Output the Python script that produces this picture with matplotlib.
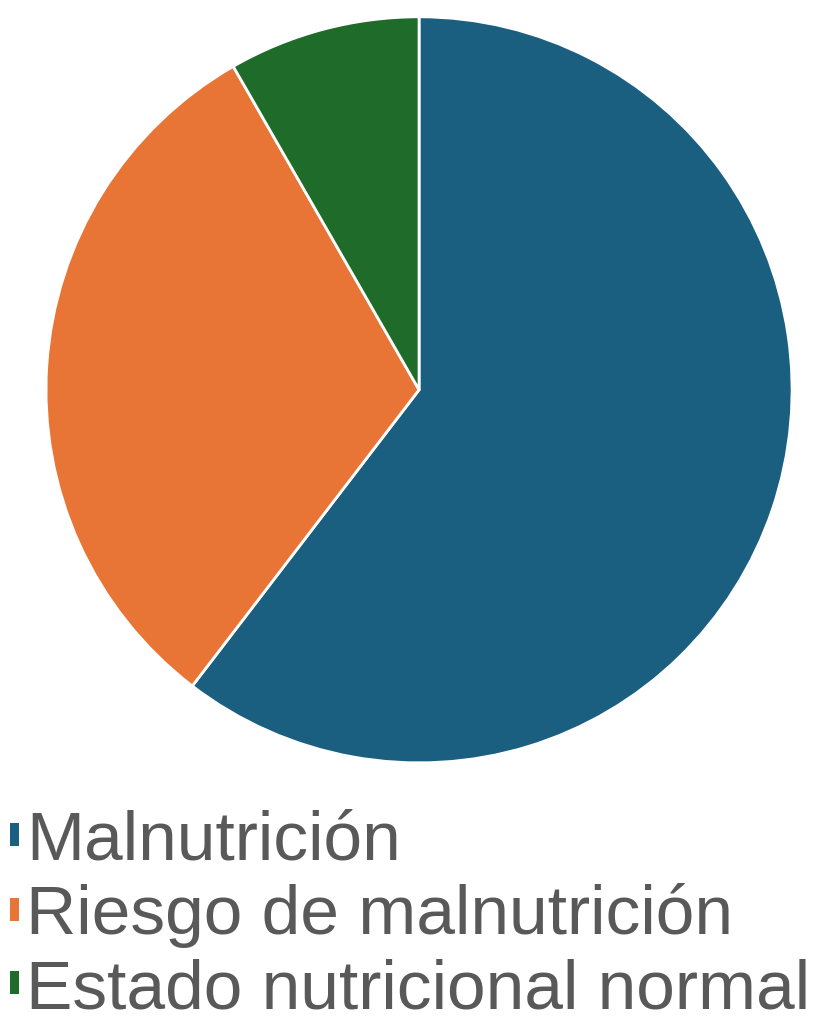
import numpy as np
import matplotlib.pyplot as plt

labels = ['Malnutrición', 'Riesgo de malnutrición', 'Estado nutricional normal']
values = [60.4, 31.3, 8.3]
colors = ['#1a5e80', '#e87535', '#1e6b2a']

plt.rcParams['font.family'] = ['Liberation Sans', 'DejaVu Sans']

fig = plt.figure(figsize=(8.28, 10.21), dpi=100)
ax = fig.add_axes([0.0556, 0.2527, 0.901, 0.731])
wedges, _ = ax.pie(values, colors=colors, startangle=90, counterclock=False,
                   wedgeprops=dict(edgecolor='white', linewidth=2))
ax.set_xlim(-1, 1)
ax.set_ylim(-1, 1)
ax.set_aspect('equal')

leg = fig.legend(wedges, labels, loc='upper left', bbox_to_anchor=(0.012, 0.207),
                 frameon=False, fontsize=50, handlelength=0.13, handleheight=0.13,
                 handletextpad=0.1, labelspacing=0.14, borderpad=0, borderaxespad=0)
for t in leg.get_texts():
    t.set_color('#595959')
for h in leg.legend_handles:
    h.set_edgecolor('none')

fig.savefig('out.png', dpi=100)
